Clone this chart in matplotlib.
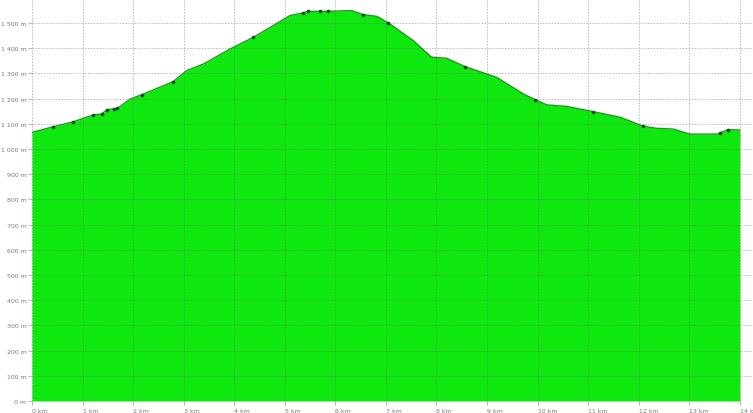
import matplotlib
matplotlib.use("Agg")
import matplotlib.pyplot as plt
import numpy as np

# Elevation profile (distance km, elevation m)
dist_km = [0.00, 0.42, 0.82, 1.21, 1.38, 1.48, 1.69, 1.94, 2.17, 2.79, 3.06, 3.39, 3.92,
           4.38, 5.10, 5.36, 5.46, 5.69, 5.86, 6.32, 6.55, 6.82, 7.05, 7.54, 7.90, 8.20,
           8.56, 9.19, 9.72, 9.95, 10.18, 10.57, 11.10, 11.63, 12.09, 12.35, 12.68,
           13.01, 13.57, 13.60, 13.77, 13.97, 14.00]
elev_m = [1066, 1088, 1108, 1135, 1139, 1156, 1161, 1198, 1215, 1267, 1311, 1337, 1397,
          1443, 1529, 1540, 1546, 1546, 1546, 1549, 1533, 1526, 1500, 1430, 1364, 1360,
          1327, 1284, 1218, 1196, 1175, 1169, 1148, 1126, 1090, 1082, 1079,
          1059, 1059, 1063, 1077, 1075, 1075]

# Waypoint markers
wp_km = [0.42, 0.82, 1.21, 1.38, 1.48, 1.62, 1.69, 2.17, 2.79, 4.38, 5.36, 5.46, 5.69,
         5.86, 6.55, 7.05, 8.56, 9.95, 11.10, 12.09, 13.60, 13.77]

x_ticks = list(range(0, 15))
x_labels = [f"{k} km" for k in x_ticks]
y_ticks = list(range(0, 1600, 100))
y_labels = [(f"{v//1000} {v%1000:03d} m" if v >= 1000 else f"{v} m") for v in y_ticks]

fig = plt.figure(figsize=(7.53, 4.14), dpi=100)
ax = fig.add_axes([32/753, 12/414, 1 - 32/753, 402/414])

green = "#0ee80e"
ax.fill_between(dist_km, 0, elev_m, color=green, lw=0, zorder=1)
ax.plot(dist_km, elev_m, color="#1a9a1a", lw=1.0, zorder=2)
wp_elev = np.interp(wp_km, dist_km, elev_m)
ax.scatter(wp_km, wp_elev, s=7, color="#1d4a2a", zorder=4, linewidths=0)

ax.set_xlim(0, 14.26)
ax.set_ylim(0, 1595)
ax.set_xticks(x_ticks)
ax.set_xticklabels(x_labels)
ax.set_yticks(y_ticks)
ax.set_yticklabels(y_labels)
for lab in ax.get_xticklabels():
    lab.set_horizontalalignment("left")
ax.tick_params(axis="both", labelsize=4.5, labelcolor="#7a7a7a", color="#aaaaaa",
               length=3, width=0.6)
ax.tick_params(axis="x", pad=2)
ax.tick_params(axis="y", pad=1)
ax.grid(True, color="#666666", alpha=0.45, linestyle=(0, (1.5, 1.5)), lw=0.7, zorder=3)
ax.set_axisbelow(False)
for s in ax.spines.values():
    s.set_visible(False)

fig.savefig("out.png", dpi=100)
